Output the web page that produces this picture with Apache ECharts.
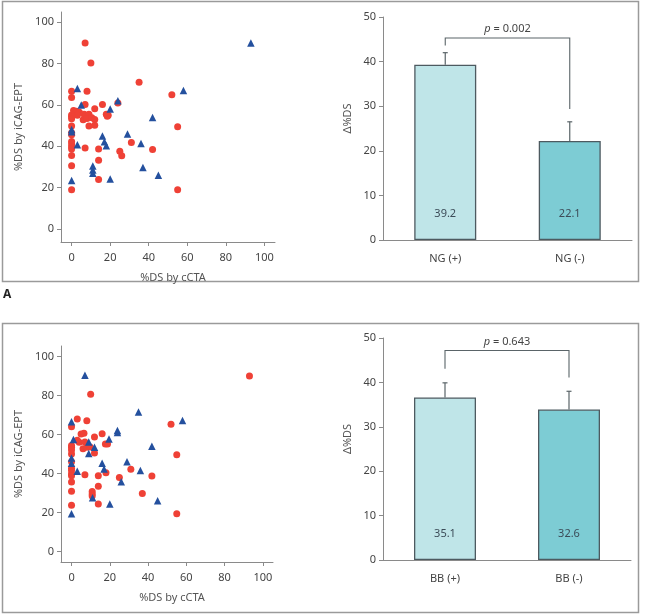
<!DOCTYPE html>
<html style="height: 100%">
<head>
	<meta charset="utf-8">
	<title></title>
	<script type="text/javascript" src="https://cdn.jsdelivr.net/npm/echarts@6/dist/echarts.min.js"></script>
	<script type="text/javascript">
		// panel A scatter: %DS by cCTA vs %DS by iCAG-EPT
		var redA = [[7,90],[10,80.3],[35,71],[52,65],[55,49.5],[55,19],
			[0,66.6],[0,63.6],[8,66.6],[7,60.2],[16,60.2],[12,58.2],[24,61],
			[1,57.3],[2.5,57],[4,56.5],[3,55],[0,55.2],[0,54.4],[0,53.4],
			[6.5,55.5],[9,55.5],[6,52.8],[8,53.5],[10.5,53.8],[12,53],[9,49.8],[12,50.2],
			[18,55.5],[19,55],[18.5,54.6],
			[0,49.8],[0,46.6],[0,45.6],[0,42.3],[0,41.1],[0,39.8],[0,38.7],[0,35.5],[0,30.6],[0,19],
			[7,39.2],[14,38.7],[14,33.3],[14,24],[25,37.6],[26,35.4],[31,41.8],[42,38.5]];
		var blueA = [[93,90],[3,68],[5,60],[24,62],[20,58],[58,67],[42,54],[0,48.2],[0,47],[3,40.8],
			[16,45],[17,42.2],[18,40.3],[29,46],[36,41.4],[11,30.5],[11,28.5],[11,27],[20,24.2],
			[0,23.5],[37,29.8],[45,26]];

		// panel B scatter
		var redB = [[93,90],[10,80.6],[3,68],[8,67],[52,65.3],[55,49.6],[55,19.3],[0,64],[5,60.2],[6.5,60.6],
			[16,60.4],[12,58.7],[0,54.4],[0,53.4],[0,52],[3,57],[4,56],[7,56.1],[6,52.7],[8,53.4],[9.7,53.6],
			[12,50.5],[17.7,55.1],[18.8,55.1],
			[0,50],[0,46],[0,42.7],[0,41.5],[0,39.8],[0,38.9],[0,35.7],[0,30.9],[0,23.7],
			[7,39.3],[14,38.9],[18,40.4],[14,33.5],[14,24.3],[10.8,30.7],[10.8,29.5],[10.8,28.5],
			[25,37.9],[31,42.2],[37,29.7],[42,38.7]];
		var blueB = [[7,90.4],[35,71.6],[58,67.2],[0,66.5],[24,62],[24,61],[19.6,57.7],[1,57.5],[9,56.1],
			[12,53.4],[42,54],[9,50.2],[0,48],[0,45.2],[16,45.2],[29,46],[17,42.3],[36,41.5],[3,41.1],
			[26,35.8],[11,27.5],[20,24.3],[45,26],[0,19.4]];

		var scatterTicks = [0, 20, 40, 60, 80, 100];

		// bar panels: delta %DS
		var catsA = ['NG (+)', 'NG (-)'];
		var barsA = [39.3, 22.2];
		var barLabelsA = ['39.2', '22.1'];
		var errTopA = [42.0, 26.5];
		var bracketA = [43.6, 29.4, 45.3];   // left end, right end, top
		var pA = '0.002';

		var catsB = ['BB (+)', 'BB (-)'];
		var barsB = [36.6, 33.9];
		var barLabelsB = ['35.1', '32.6'];
		var errTopB = [39.9, 38.0];
		var bracketB = [43.1, 41.1, 47.2];
		var pB = '0.643';

		var barColors = ['#bfe5e8', '#7dccd4'];

		window.onload = function () {
			var dom = document.getElementById('container');
			var myChart = echarts.init(dom);
			var font = 'Noto Sans';
			var labelColor = '#444';
			var axisColor = '#8a8a8a';

			function scatterX(gi, max) {
				return {
					type: 'value', gridIndex: gi, min: -5.5, max: max,
					name: '%DS by cCTA', nameLocation: 'middle', nameGap: 30,
					nameTextStyle: {fontFamily: font, fontSize: 11, color: '#555', padding: [0, 0, 0, 10]},
					splitLine: {show: false},
					axisLine: {show: true, onZero: false, lineStyle: {color: axisColor}},
					axisTick: {show: true, length: 4, customValues: scatterTicks, lineStyle: {color: axisColor}},
					axisLabel: {customValues: scatterTicks, fontFamily: font, fontSize: 11, color: labelColor, margin: 10}
				};
			}
			function scatterY(gi, min, max) {
				return {
					type: 'value', gridIndex: gi, min: min, max: max,
					name: '%DS by iCAG-EPT', nameLocation: 'middle', nameGap: 37, nameRotate: 90,
					nameTextStyle: {fontFamily: font, fontSize: 11, color: '#555'},
					splitLine: {show: false},
					axisLine: {show: true, onZero: false, lineStyle: {color: axisColor}},
					axisTick: {show: true, length: 4, customValues: scatterTicks, lineStyle: {color: axisColor}},
					axisLabel: {customValues: scatterTicks, fontFamily: font, fontSize: 11, color: labelColor, margin: 7}
				};
			}
			function barX(gi, cats) {
				return {
					type: 'category', gridIndex: gi, data: cats,
					axisLine: {lineStyle: {color: axisColor}},
					axisTick: {show: false},
					axisLabel: {fontFamily: font, fontSize: 11, color: labelColor, margin: 13}
				};
			}
			function barY(gi) {
				return {
					type: 'value', gridIndex: gi, min: 0, max: 50, interval: 10,
					name: 'Δ%DS', nameLocation: 'middle', nameGap: 30, nameRotate: 90,
					nameTextStyle: {fontFamily: font, fontSize: 11, color: '#555', padding: [0, 0, 0, 20]},
					splitLine: {show: false},
					axisLine: {show: true, lineStyle: {color: axisColor}},
					axisTick: {show: true, length: 4, lineStyle: {color: axisColor}},
					axisLabel: {fontFamily: font, fontSize: 11, color: labelColor, margin: 7}
				};
			}
			function scatterSeries(gi, data, isRed) {
				return {
					type: 'scatter', xAxisIndex: gi, yAxisIndex: gi, data: data,
					symbol: isRed ? 'circle' : 'triangle',
					symbolSize: isRed ? 7 : 7.5,
					itemStyle: {color: isRed ? '#ef4136' : '#24509e', opacity: 1}
				};
			}
			function barSeries(gi, vals, labels) {
				return {
					type: 'bar', xAxisIndex: gi, yAxisIndex: gi, barWidth: 62,
					data: vals.map(function (v, i) {
						return {value: v, itemStyle: {color: barColors[i]}};
					}),
					itemStyle: {borderColor: '#4d5a60', borderWidth: 1.3},
					label: {
						show: true, position: 'insideBottom', distance: 21,
						fontFamily: font, fontSize: 11, color: '#3c4c58',
						formatter: function (p) { return labels[p.dataIndex]; }
					}
				};
			}
			function errSeries(gi, vals, tops) {
				return {
					type: 'custom', xAxisIndex: gi, yAxisIndex: gi,
					data: vals.map(function (v, i) { return [i, v, tops[i]]; }),
					renderItem: function (params, api) {
						var lo = api.coord([api.value(0), api.value(1)]);
						var hi = api.coord([api.value(0), api.value(2)]);
						var st = {stroke: '#5a6468', lineWidth: 1.2};
						return {type: 'group', children: [
							{type: 'line', shape: {x1: lo[0], y1: lo[1], x2: hi[0], y2: hi[1]}, style: st},
							{type: 'line', shape: {x1: hi[0] - 2.5, y1: hi[1], x2: hi[0] + 2.5, y2: hi[1]}, style: st}
						]};
					}
				};
			}
			function bracketSeries(gi, br, pval) {
				return {
					type: 'custom', xAxisIndex: gi, yAxisIndex: gi,
					data: [[0, br[0], br[1], br[2]]],
					renderItem: function (params, api) {
						var a = api.coord([0, api.value(1)]);
						var b = api.coord([0, api.value(3)]);
						var c = api.coord([1, api.value(3)]);
						var d = api.coord([1, api.value(2)]);
						return {type: 'group', children: [
							{type: 'polyline', shape: {points: [a, b, c, d]},
								style: {stroke: '#5a6468', lineWidth: 1.1, fill: null}},
							{type: 'text', x: (b[0] + c[0]) / 2, y: b[1] - 9,
								style: {
									text: '{i|p} = ' + pval, align: 'center', verticalAlign: 'middle',
									font: '11px ' + font, fill: '#444',
									rich: {i: {fontStyle: 'italic', fontFamily: font, fontSize: 11, fill: '#444'}}
								}}
						]};
					}
				};
			}

			var option = {
				animation: false,
				backgroundColor: '#fff',
				grid: [
					{left: 61, top: 12, width: 214, height: 230},
					{left: 383, top: 17, width: 249, height: 223},
					{left: 61, top: 346, width: 212, height: 216},
					{left: 383, top: 338, width: 248, height: 222}
				],
				xAxis: [scatterX(0, 105.5), barX(1, catsA), scatterX(2, 105.3), barX(3, catsB)],
				yAxis: [scatterY(0, -6.3, 105), barY(1), scatterY(2, -5.4, 105.4), barY(3)],
				graphic: [
					{type: 'rect', shape: {x: 2.5, y: 1.5, width: 636, height: 280},
						style: {fill: null, stroke: '#9a9a9a', lineWidth: 1.5}},
					{type: 'rect', shape: {x: 2.5, y: 323.5, width: 636, height: 289},
						style: {fill: null, stroke: '#9a9a9a', lineWidth: 1.5}},
					{type: 'text', left: 3, top: 289,
						style: {text: 'A', font: 'bold 12px ' + font, fill: '#222'}}
				],
				series: [
					scatterSeries(0, redA, true),
					scatterSeries(0, blueA, false),
					barSeries(1, barsA, barLabelsA),
					errSeries(1, barsA, errTopA),
					bracketSeries(1, bracketA, pA),
					scatterSeries(2, redB, true),
					scatterSeries(2, blueB, false),
					barSeries(3, barsB, barLabelsB),
					errSeries(3, barsB, errTopB),
					bracketSeries(3, bracketB, pB)
				]
			};
			myChart.setOption(option);
		};
	</script>
</head>
<body style="height: 100%; margin: 0">
<div id="container" style="width: 647px; height: 615px"></div>
</body>
</html>
